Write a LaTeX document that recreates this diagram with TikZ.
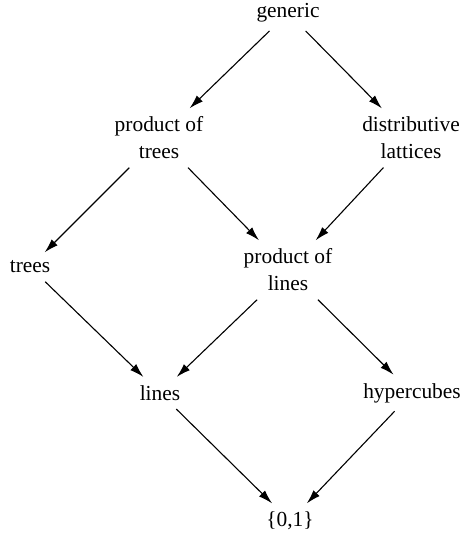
\documentclass[tikz,border=0pt]{standalone}
\usepackage{fontspec}
\setmainfont{Liberation Serif}
\usetikzlibrary{arrows.meta}
\begin{document}
\begin{tikzpicture}[x=0.5pt,y=-0.5pt,>={Latex[length=7pt,width=4.2pt]}]
    \tikzstyle{every node}=[font=\fontsize{10.7}{13.5}\selectfont,align=center,inner xsep=2pt,inner ysep=4pt]
    \tikzstyle{every path}=[line width=0.55pt]
    \useasboundingbox (0,0) rectangle (461,534);

    \node (gen) at (288,13) {generic};
    \node (pot) at (159,138) {product of\\trees};
    \node (dist) at (411,138) {distributive\\lattices};
    \node (trees) at (30,267) {trees};
    \node (pol) at (288,270) {product of\\lines};
    \node (lines) at (160,393) {lines};
    \node (cubes) at (412,393) {hypercubes};
    \node (bit) at (290,521) {\{0,1\}};

    \draw[->] (gen) -- (pot);
    \draw[->] (gen) -- (dist);
    \draw[->] (pot) -- (trees);
    \draw[->] (pot) -- (pol);
    \draw[->] (dist) -- (pol);
    \draw[->] (trees) -- (lines);
    \draw[->] (pol) -- (lines);
    \draw[->] (pol) -- (cubes);
    \draw[->] (lines) -- (bit);
    \draw[->] (cubes) -- (bit);
\end{tikzpicture}
\end{document}
